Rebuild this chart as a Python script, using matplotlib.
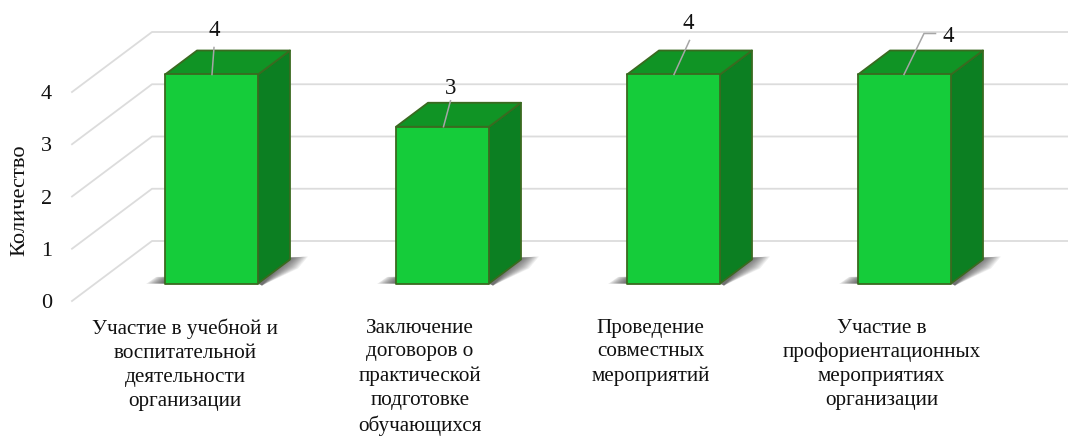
import matplotlib
matplotlib.use("Agg")
import matplotlib.pyplot as plt
from matplotlib.patches import Polygon
from matplotlib.transforms import Affine2D

plt.rcParams['font.family'] = ['Liberation Serif', 'DejaVu Serif']

categories = [
    "Участие в учебной и\nвоспитательной\nдеятельности\nорганизации",
    "Заключение\nдоговоров о\nпрактической\nподготовке\nобучающихся",
    "Проведение\nсовместных\nмероприятий",
    "Участие в\nпрофориентационных\nмероприятиях\nорганизации",
]
values = [4, 3, 4, 4]
y_ticks = [0, 1, 2, 3, 4]
y_label = "Количество"

W, H = 1068, 436
fig = plt.figure(figsize=(W / 100, H / 100), dpi=100, facecolor='white')
L, R, B0, UNIT = 72, 1068, 301, 52.25
TOP = 20
ax = fig.add_axes([L / W, (H - B0) / H, (R - L) / W, (B0 - TOP) / H])
CAT0, CATSTEP = 211.5, 231
ax.set_xlim((L - CAT0) / CATSTEP, (R - CAT0) / CATSTEP)
ax.set_ylim(0, (B0 - TOP) / UNIT)
for s in ax.spines.values():
    s.set_visible(False)
ax.patch.set_alpha(0)


def off(dx, dy):
    """transData shifted by a pixel offset (dy downward in image)."""
    return ax.transData + Affine2D().translate(dx, -dy)


px = CATSTEP  # pixels per category
GRID = '#dcdcdc'
for v in y_ticks:
    # receding floor/wall line: left front corner to back wall, then to the right
    x0 = (L - CAT0) / CATSTEP
    ax.plot([x0, x0 + 80 / px, ax.get_xlim()[1]], [v, v + 60 / UNIT, v + 60 / UNIT],
            color=GRID, lw=1.3, clip_on=False, zorder=1, solid_joinstyle='round')

ax.set_yticks(y_ticks)
ax.set_yticklabels([str(v) for v in y_ticks], fontsize=16, color='#111111')
ax.tick_params(axis='y', length=0, pad=14.5)
ax.set_xticks([])
fig.text(20 / W, 1 - 200.5 / H, y_label, rotation=90, ha='center', va='center',
         fontsize=16.2, color='#111111')

HALF, DX, DY = 46.5 / px, 32 / px, 24 / UNIT
FRONT, TOPC, SIDE, EDGE = '#15cc3a', '#109425', '#0c7f22', '#3a6a20'
bar_off = ax.transData + Affine2D().translate(0, 17.5)

for i, v in enumerate(values):
    xl, xr = i - HALF, i + HALF
    # soft floor shadow
    for k in range(14):
        a = 0.075
        g = k * 1.3
        ax.add_patch(Polygon([(xr + DX - 2 / px, DY + 2 / UNIT), (xr + DX + (18 - g) / px, DY + (3 - k * 0.1) / UNIT),
                              (xr + DX + (8 - g) / px, DY - (9 - k * 0.3) / UNIT), (xr + 4 / px, -2 / UNIT), (xr, 0)],
                             closed=True, fc='#303030', ec='none', alpha=a, transform=bar_off, zorder=2))
        ax.add_patch(Polygon([(xl - (19 - g) / px, 0), (xl + 2 / px, 0), (xl + 2 / px, 7 / UNIT),
                              (xl - (9 - g * 0.6) / px, (7 - k * 0.3) / UNIT)],
                             closed=True, fc='#303030', ec='none', alpha=a, transform=bar_off, zorder=2))
    kw = dict(closed=True, ec=EDGE, lw=1.3, transform=bar_off, zorder=3, joinstyle='round')
    ax.add_patch(Polygon([(xr, 0), (xr + DX, DY), (xr + DX, v + DY), (xr, v)], fc=SIDE, **kw))
    ax.add_patch(Polygon([(xl, v), (xr, v), (xr + DX, v + DY), (xl + DX, v + DY)], fc=TOPC, **kw))
    ax.add_patch(Polygon([(xl, 0), (xr, 0), (xr, v), (xl, v)], fc=FRONT, **kw))

# data labels with leader lines (pixel offsets from top-centre of the front face)
leaders = [[(0.5, 0), (2.5, -27)], [(1, 0), (8, -26)], [(0.5, 0), (16, -34)], [(-0.5, 0), (19.5, -41), (31, -41)]]
label_off = [(2.5, -44), (8, -38), (15, -51), (44, -38)]
for i, v in enumerate(values):
    xs = [i + p[0] / px for p in leaders[i]]
    ys = [v - p[1] / UNIT for p in leaders[i]]
    ax.plot(xs, ys, color='#a6a6a6', lw=1.1, transform=bar_off, zorder=4, clip_on=False)
    ax.text(i + label_off[i][0] / px, v - label_off[i][1] / UNIT, str(v), transform=bar_off,
            ha='center', va='center', fontsize=16.5, color='#111111', zorder=5, clip_on=False)

cat_shift = [-26.5, -22.5, -23, -23]
for i, c in enumerate(categories):
    ax.text(i + cat_shift[i] / px, 0, c, transform=off(0, 17.5), ha='center', va='top',
            fontsize=15.2, color='#111111', linespacing=1.35, clip_on=False)

fig.savefig('out.png', dpi=100, facecolor='white')
